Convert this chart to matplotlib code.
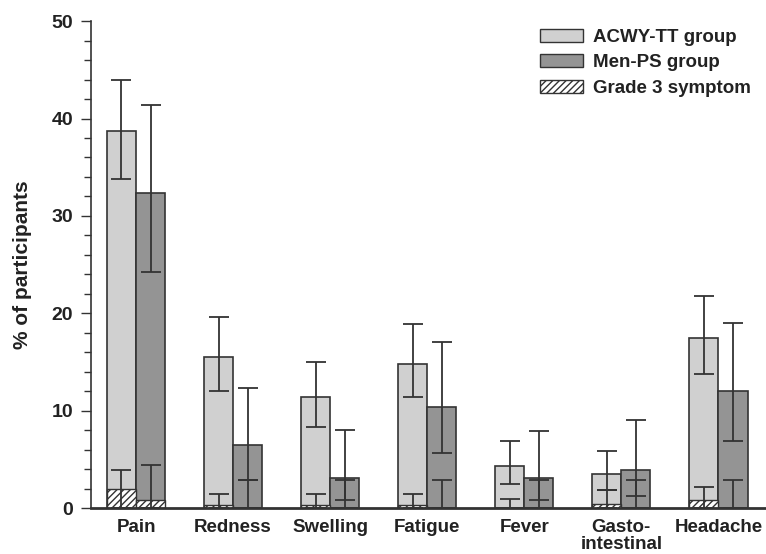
import numpy as np
import matplotlib
matplotlib.use("Agg")
import matplotlib.pyplot as plt
from matplotlib.patches import Patch

# Symptom categories and values (% of participants)
symptoms = ["Pain", "Redness", "Swelling", "Fatigue", "Fever", "Gasto-\nintestinal", "Headache"]

acwy = [38.7, 15.5, 11.4, 14.8, 4.3, 3.5, 17.5]
acwy_lo = [33.8, 12.0, 8.3, 11.4, 2.45, 1.9, 13.8]
acwy_hi = [44.0, 19.6, 15.0, 18.95, 6.9, 5.9, 21.8]
acwy_g3 = [1.95, 0.35, 0.3, 0.3, 0.0, 0.45, 0.8]
acwy_g3_hi = [3.9, 1.5, 1.45, 1.45, 0.95, 1.9, 2.2]

menps = [32.4, 6.5, 3.15, 10.4, 3.15, 3.95, 12.0]
menps_lo = [24.2, 2.9, 0.85, 5.7, 0.85, 1.25, 6.9]
menps_hi = [41.4, 12.35, 8.05, 17.1, 7.95, 9.05, 19.05]
menps_g3 = [0.85, 0.0, 0.0, 0.0, 0.0, 0.0, 0.0]
menps_g3_hi = [4.4, 2.9, 2.9, 2.9, 2.9, 2.9, 2.9]

plt.rcParams["font.family"] = ["Liberation Sans", "DejaVu Sans"]
plt.rcParams["font.weight"] = "bold"
plt.rcParams["hatch.color"] = "#333333"
plt.rcParams["hatch.linewidth"] = 1.0

light = "#d0d0d0"
dark = "#949494"
edge = "#333333"

fig = plt.figure(figsize=(7.66, 5.54), dpi=100)
ax = fig.add_axes([0.1183, 0.0825, 0.8817, 0.8795])

x = np.arange(len(symptoms))
w = 0.3
xa = x - w / 2
xm = x + w / 2

ax.bar(xa, acwy, w, color=light, edgecolor=edge, linewidth=1.2, zorder=2)
ax.bar(xm, menps, w, color=dark, edgecolor=edge, linewidth=1.2, zorder=2)
ax.bar(xa, acwy_g3, w, color="white", edgecolor=edge, hatch="/////", linewidth=1.0, zorder=3)
ax.bar(xm, menps_g3, w, color="white", edgecolor=edge, hatch="/////", linewidth=1.0, zorder=3)

eb = dict(fmt="none", ecolor=edge, elinewidth=1.3, capsize=7, capthick=1.3, zorder=4)
acwy = np.array(acwy)
menps = np.array(menps)
ax.errorbar(xa, acwy, yerr=[acwy - np.array(acwy_lo), np.array(acwy_hi) - acwy], **eb)
ax.errorbar(xm, menps, yerr=[menps - np.array(menps_lo), np.array(menps_hi) - menps], **eb)
g3a = np.array(acwy_g3)
g3m = np.array(menps_g3)
ax.errorbar(xa, g3a, yerr=[g3a, np.array(acwy_g3_hi) - g3a], **eb)
ax.errorbar(xm, g3m, yerr=[g3m, np.array(menps_g3_hi) - g3m], **eb)

ax.set_xlim(-0.468, 6.49)
ax.set_ylim(0, 50)
ax.set_yticks(np.arange(0, 51, 10))
ax.set_yticks(np.arange(0, 51, 2), minor=True)
ax.set_xticks(x)
ax.set_xticklabels(symptoms, fontsize=13.5, fontweight="bold", color="#222222", linespacing=1.0)
ax.tick_params(axis="x", length=0, pad=8)
ax.tick_params(axis="y", which="major", length=7.5, width=1.0, labelsize=14, pad=5, colors="#333333")
ax.tick_params(axis="y", which="minor", length=5, width=1.0, colors="#333333")
for lab in ax.get_yticklabels():
    lab.set_color("#222222")
ax.set_ylabel("% of participants", fontsize=15, fontweight="bold", color="#222222", labelpad=14)

ax.spines["top"].set_visible(False)
ax.spines["right"].set_visible(False)
ax.spines["left"].set_color(edge)
ax.spines["left"].set_linewidth(1.2)
ax.spines["bottom"].set_color(edge)
ax.spines["bottom"].set_linewidth(2.0)
ax.spines["bottom"].set_zorder(5)

handles = [
    Patch(facecolor=light, edgecolor=edge, linewidth=1.0, label="ACWY-TT group"),
    Patch(facecolor=dark, edgecolor=edge, linewidth=1.0, label="Men-PS group"),
    Patch(facecolor="white", edgecolor=edge, linewidth=1.0, hatch="/////", label="Grade 3 symptom"),
]
fig.legend(handles=handles, loc="upper left", bbox_to_anchor=(540 / 766, 1 - 29 / 554),
           frameon=False, fontsize=13.5, handlelength=2.3, handleheight=0.68,
           handletextpad=0.55, labelspacing=0.45, borderpad=0, borderaxespad=0,
           labelcolor="#222222")

fig.savefig("out.png", dpi=100)
